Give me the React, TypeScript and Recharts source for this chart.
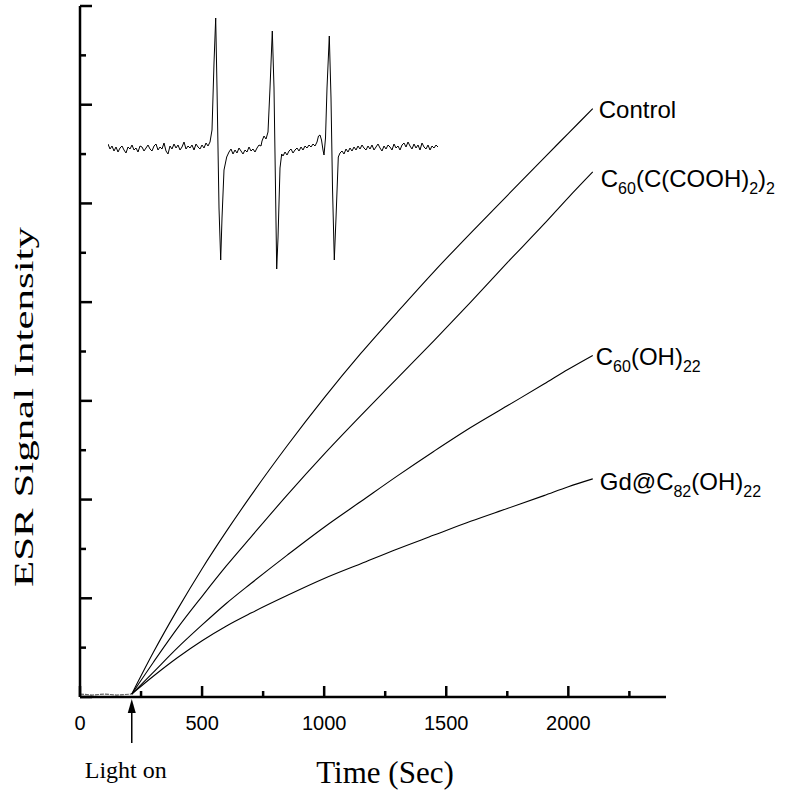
import React from "react";
import { LineChart, Line, XAxis, YAxis, ReferenceDot } from "recharts";

// kinetics (sec) and ESR intensity in arbitrary units; light switched on at 212 s
const times = [0, 50, 100, 150, 212, 300, 400, 500, 600, 700, 850, 1000, 1150, 1300, 1450, 1600, 1750, 1900, 2000, 2100];
const dark = [0.03, 0.02, 0.03, 0.02, 0.03, null, null, null, null, null, null, null, null, null, null, null, null, null, null, null];
const control = [null, null, null, null, 0.03, 0.45, 0.89, 1.3, 1.68, 2.04, 2.55, 3.03, 3.48, 3.9, 4.31, 4.7, 5.08, 5.46, 5.71, 5.96];
const cooh = [null, null, null, null, 0.03, 0.35, 0.7, 1.02, 1.33, 1.62, 2.05, 2.46, 2.85, 3.23, 3.61, 4.0, 4.4, 4.79, 5.06, 5.32];
const oh = [null, null, null, null, 0.03, 0.25, 0.5, 0.73, 0.95, 1.15, 1.44, 1.72, 1.98, 2.24, 2.49, 2.73, 2.95, 3.17, 3.32, 3.46];
const gd = [null, null, null, null, 0.03, 0.21, 0.4, 0.57, 0.72, 0.85, 1.03, 1.2, 1.35, 1.5, 1.64, 1.78, 1.91, 2.04, 2.13, 2.21];

const xTicks = [0, 250, 500, 750, 1000, 1250, 1500, 1750, 2000, 2250];
const yTicks = [0, 0.5, 1, 1.5, 2, 2.5, 3, 3.5, 4, 4.5, 5, 5.5, 6, 6.5, 7];
const lightOn = 212;

// inset ESR spectrum: [field, signal]
const spectrum: [number, number][] = [
  [0, 4], [2, -1], [4, 2], [6, -3], [8, 1], [10, -4], [12, 0], [14, 2], [16, -2], [18, -5],
  [20, 1], [22, -1], [24, 3], [26, -2], [28, 0], [30, -4], [32, 2], [34, 1], [36, -3], [38, 0],
  [40, 3], [42, -1], [44, -3], [46, 2], [48, 4], [50, -2], [52, 1], [54, -1], [56, 5], [58, -3],
  [60, -6], [62, 2], [64, -1], [66, 4], [68, 0], [70, 3], [72, -2], [74, 1], [76, 6], [78, -1],
  [80, 2], [82, 0], [84, 3], [86, -2], [88, 4], [90, 1], [92, -1], [94, 3], [96, 0], [98, 5],
  [100, 2], [102, 6], [104, 18], [106, 85], [107.7, 130], [109, 60], [111, -60], [112.7, -112],
  [114, -70], [116, -22], [118.7, -9], [121, -4], [123, -1],
  [125, -6], [127, -2], [129, -5], [131, 0], [133, -3], [135, -6], [137, -2], [139, -4], [141, 1],
  [143, -3], [145, -1], [147, -4], [149, 0], [151, 3], [153, 2], [154, 7], [156, 12], [158, 9],
  [160, 16], [162, 60], [164.3, 117], [166, 60], [167.5, -40], [168.7, -121], [170, -90],
  [172, -20], [173.7, -6], [175, -8], [177, -4], [179, -7],
  [181, -3], [183, -1], [185, -5], [187, -2], [189, 0], [191, -3], [193, 1], [195, -2], [197, 2],
  [199, 0], [201, 3], [203, 1], [205, 4], [207, 2], [209, 6], [210.5, 12], [212, 13], [213.5, 8],
  [215, -2], [216, -7], [217.5, 10], [219, 60], [221.3, 112], [223, 50], [224.5, -40],
  [226.3, -112], [228, -70], [230.3, -9], [232, -5], [234, -3],
  [236, -6], [238, -1], [240, -4], [242, 0], [244, -3], [246, 1], [248, -2], [250, 2], [252, -1],
  [254, 3], [256, 0], [258, -2], [260, 2], [262, -1], [264, 3], [266, -2], [268, 1], [270, 4],
  [272, 0], [274, -3], [276, 2], [278, -1], [280, 3], [282, 1], [284, -2], [286, 4], [288, 0],
  [290, 2], [292, -2], [294, 3], [296, 5], [298, 1], [300, 6], [302, 2], [304, -1], [306, 4],
  [308, 0], [310, 3], [312, -2], [314, 5], [316, 1], [318, -1], [320, 3], [322, -2], [324, 2],
  [326, 0], [328, 3], [330, 1],
];

const data = times.map((t, i) => ({ t, dark: dark[i], control: control[i], cooh: cooh[i], oh: oh[i], gd: gd[i] }));
const insetData = spectrum.map(([f, v]) => ({ f, v }));

const SANS = "'Liberation Sans', Arial, sans-serif";
const SERIF = "'Liberation Serif', 'Times New Roman', serif";
const INK = "#000";

// [text, isSubscript]
const names: Record<string, { dx: number; dy: number; parts: [string, boolean][] }> = {
  control: { dx: 6, dy: 9, parts: [["Control", false]] },
  cooh: { dx: 8, dy: 15, parts: [["C", false], ["60", true], ["(C(COOH)", false], ["2", true], [")", false], ["2", true]] },
  oh: { dx: 3, dy: 10, parts: [["C", false], ["60", true], ["(OH)", false], ["22", true]] },
  gd: { dx: 7, dy: 11, parts: [["Gd@C", false], ["82", true], ["(OH)", false], ["22", true]] },
};

const endLabel = (key: string) => (p: any) => {
  if (p.index !== times.length - 1) return null;
  const x = p.x ?? p.viewBox?.x;
  const y = p.y ?? p.viewBox?.y;
  const n = names[key];
  let low = false;
  return (
    <text key={key} x={x + n.dx} y={y + n.dy} fontSize={24} fontFamily={SANS} fill={INK}>
      {n.parts.map(([s, isSub], i) => {
        const dy = isSub === low ? 0 : isSub ? 7 : -7;
        low = isSub;
        return (
          <tspan key={i} dy={dy} fontSize={isSub ? 16 : 24}>
            {s}
          </tspan>
        );
      })}
    </text>
  );
};

const XTick = (p: any) => {
  const { x, y, payload } = p;
  const major = payload.value % 500 === 0;
  return (
    <g>
      <line x1={x} x2={x} y1={y} y2={y - (major ? 11 : 6)} stroke={INK} strokeWidth={2.5} />
      {major && (
        <text x={x} y={y + 33} textAnchor="middle" fontSize={20} fontFamily={SANS} fill={INK}>
          {payload.value}
        </text>
      )}
    </g>
  );
};

const YTick = (p: any) => {
  const { x, y, payload } = p;
  const major = Number.isInteger(payload.value);
  return <line x1={x} x2={x + (major ? 12 : 6)} y1={y} y2={y} stroke={INK} strokeWidth={2.5} />;
};

const LightArrow = (p: any) => {
  const { cx, cy } = p;
  return (
    <g>
      <line x1={cx} x2={cx} y1={cy + 46} y2={cy + 14} stroke={INK} strokeWidth={1.5} />
      <polygon points={`${cx},${cy + 2} ${cx - 4},${cy + 16} ${cx + 4},${cy + 16}`} fill={INK} />
      <text x={cx - 47} y={cy + 81} fontSize={24} fontFamily={SERIF} fill={INK}>
        Light on
      </text>
    </g>
  );
};

const XTitle = (p: any) => {
  const vb = p.viewBox;
  return (
    <text x={vb.x + 305} y={vb.y + 86} textAnchor="middle" fontSize={31} fontFamily={SERIF} fill={INK}>
      Time (Sec)
    </text>
  );
};

const YTitle = (p: any) => {
  const vb = p.viewBox;
  const x = vb.x + vb.width - 47;
  const y = vb.y + 401;
  return (
    <text
      x={x}
      y={y}
      transform={`rotate(-90, ${x}, ${y})`}
      textAnchor="middle"
      fontSize={28}
      textLength={360}
      lengthAdjust="spacingAndGlyphs"
      fontFamily={SERIF}
      fill={INK}
    >
      ESR Signal Intensity
    </text>
  );
};

export default function App() {
  return (
    <div style={{ position: "absolute", left: 0, top: 0, width: 794, height: 791, background: "#fff" }}>
      <LineChart width={794} height={791} data={data} margin={{ top: 6, right: 128, bottom: 93, left: 79 }}>
        <XAxis
          dataKey="t"
          type="number"
          domain={[0, 2400]}
          ticks={xTicks}
          interval={0}
          height={1}
          tickSize={0}
          tickMargin={0}
          tick={XTick}
          tickLine={false}
          axisLine={{ stroke: INK, strokeWidth: 2.5 }}
          label={{ content: XTitle }}
        />
        <YAxis
          type="number"
          domain={[0, 7]}
          ticks={yTicks}
          interval={0}
          width={1}
          tickSize={0}
          tickMargin={0}
          tick={YTick}
          tickLine={false}
          axisLine={{ stroke: INK, strokeWidth: 2.5 }}
          label={{ content: YTitle }}
        />
        <Line dataKey="dark" type="linear" stroke="#666" strokeWidth={1.2} strokeDasharray="4 1" dot={false} isAnimationActive={false} />
        <Line dataKey="control" type="monotone" stroke={INK} strokeWidth={1.1} dot={false} isAnimationActive={false} label={endLabel("control")} />
        <Line dataKey="cooh" type="monotone" stroke={INK} strokeWidth={1.1} dot={false} isAnimationActive={false} label={endLabel("cooh")} />
        <Line dataKey="oh" type="monotone" stroke={INK} strokeWidth={1.1} dot={false} isAnimationActive={false} label={endLabel("oh")} />
        <Line dataKey="gd" type="monotone" stroke={INK} strokeWidth={1.1} dot={false} isAnimationActive={false} label={endLabel("gd")} />
        <ReferenceDot x={lightOn} y={0} r={0} ifOverflow="visible" shape={LightArrow} />
      </LineChart>
      <div style={{ position: "absolute", left: 108, top: 13 }}>
        <LineChart width={330} height={260} data={insetData} margin={{ top: 0, right: 0, bottom: 0, left: 0 }}>
          <XAxis dataKey="f" type="number" domain={[0, 330]} hide />
          <YAxis type="number" domain={[-125, 135]} hide />
          <Line dataKey="v" type="linear" stroke={INK} strokeWidth={1} dot={false} isAnimationActive={false} />
        </LineChart>
      </div>
    </div>
  );
}
